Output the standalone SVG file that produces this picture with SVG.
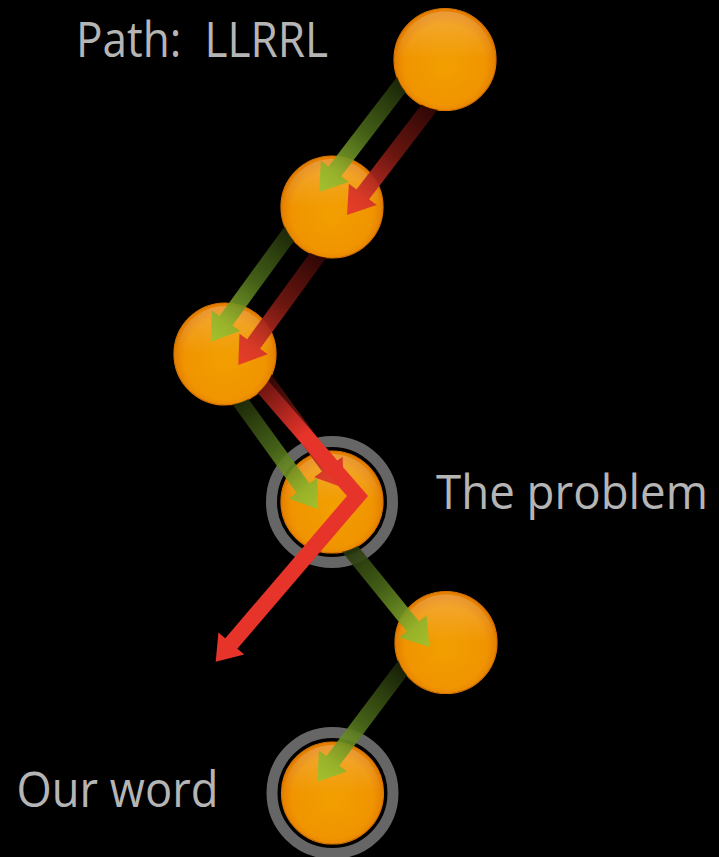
<svg xmlns="http://www.w3.org/2000/svg" width="719" height="857" viewBox="0 0 719 857">
<style>
.lbl{font-family:"Open Sans","Liberation Sans",sans-serif;font-size:50px;font-weight:400;fill:#b5b5b5}
.ball{fill:url(#ballG);stroke:#d97500;stroke-width:1.2}
.hl{fill:url(#hlG)}
.ring{fill:none;stroke:#666;stroke-width:11}
.gA{fill:url(#gG);opacity:0.9}
.rA{fill:url(#rG);opacity:0.92}
</style>
<defs>
<radialGradient id="ballG" cx="0.5" cy="0.55" r="0.5">
<stop offset="0" stop-color="#f29f00"/>
<stop offset="0.8" stop-color="#f09400"/>
<stop offset="1" stop-color="#e47f00"/>
</radialGradient>
<linearGradient id="hlG" x1="0" y1="0" x2="0" y2="1">
<stop offset="0" stop-color="#fff" stop-opacity="0.22"/>
<stop offset="0.5" stop-color="#fff" stop-opacity="0"/>
</linearGradient>
<linearGradient id="gG" x1="0" y1="0" x2="1" y2="0">
<stop offset="0" stop-color="#141c05"/>
<stop offset="0.5" stop-color="#4b6a1a"/>
<stop offset="0.85" stop-color="#8fb52c"/>
<stop offset="1" stop-color="#9cc431"/>
</linearGradient>
<linearGradient id="rG" x1="0" y1="0" x2="1" y2="0">
<stop offset="0" stop-color="#230403"/>
<stop offset="0.5" stop-color="#751811"/>
<stop offset="0.85" stop-color="#d8322a"/>
<stop offset="1" stop-color="#e6372a"/>
</linearGradient>
<linearGradient id="bentG" gradientUnits="userSpaceOnUse" x1="245" y1="366" x2="305" y2="435">
<stop offset="0" stop-color="#3a0806"/>
<stop offset="1" stop-color="#e6342a"/>
</linearGradient>
<path id="arr" d="M-150,-8 L-26,-8 L-26,-17.5 L0,0 L-26,17.5 L-26,8 L-150,8 Z"/>
<mask id="m1" maskUnits="userSpaceOnUse" x="0" y="0" width="719" height="857"><rect width="719" height="857" fill="#fff"/><circle cx="445" cy="59.5" r="51" fill="#000"/></mask>
<mask id="m2" maskUnits="userSpaceOnUse" x="0" y="0" width="719" height="857"><rect width="719" height="857" fill="#fff"/><circle cx="332" cy="207" r="51" fill="#000"/></mask>
<mask id="m3" maskUnits="userSpaceOnUse" x="0" y="0" width="719" height="857"><rect width="719" height="857" fill="#fff"/><circle cx="225" cy="354" r="51" fill="#000"/></mask>
<mask id="m4" maskUnits="userSpaceOnUse" x="0" y="0" width="719" height="857"><rect width="719" height="857" fill="#fff"/><circle cx="332" cy="502" r="51" fill="#000"/></mask>
<mask id="m5" maskUnits="userSpaceOnUse" x="0" y="0" width="719" height="857"><rect width="719" height="857" fill="#fff"/><circle cx="446" cy="642.5" r="51" fill="#000"/></mask>
</defs>
<rect width="719" height="857" fill="#000"/>

<g id="n1"><circle class="ball" cx="445" cy="59.5" r="51"/><circle class="hl" cx="445" cy="59.5" r="48"/></g>
<g id="n2"><circle class="ball" cx="332" cy="207" r="51"/><circle class="hl" cx="332" cy="207" r="48"/></g>
<g id="n3"><circle class="ball" cx="225" cy="354" r="51"/><circle class="hl" cx="225" cy="354" r="48"/></g>
<g id="n4"><circle class="ring" cx="332" cy="502" r="60.5"/><circle class="ball" cx="332" cy="502" r="51"/><circle class="hl" cx="332" cy="502" r="48"/></g>
<g id="n5"><circle class="ball" cx="446" cy="642.5" r="51"/><circle class="hl" cx="446" cy="642.5" r="48"/></g>
<g id="n6"><circle class="ring" cx="332.5" cy="793" r="60.5"/><circle class="ball" cx="332.5" cy="793" r="51"/><circle class="hl" cx="332.5" cy="793" r="48"/></g>

<g id="connectors">
<g mask="url(#m1)">
<use href="#arr" class="gA" transform="translate(319,192) rotate(127.46)"/>
<use href="#arr" class="rA" transform="translate(347,215) rotate(127.46)"/>
</g>
<g mask="url(#m2)">
<use href="#arr" class="gA" transform="translate(210.7,341.7) rotate(126.05)"/>
<use href="#arr" class="rA" transform="translate(238.3,365) rotate(126.05)"/>
</g>
<g mask="url(#m3)">
<use href="#arr" class="gA" transform="translate(318.3,509.3) rotate(54.13)"/>
<use href="#arr" class="rA" transform="translate(343.7,488) rotate(54.13)"/>
<polyline points="250,372 357.5,496 229.9,645.1" fill="none" stroke="url(#bentG)" stroke-width="16" stroke-linejoin="miter"/>
<polygon points="215.7,661.7 218.4,632.5 244.2,654.5" fill="#e6342a"/>
</g>
<g mask="url(#m4)">
<use href="#arr" class="gA" transform="translate(429.3,646.7) rotate(50.94)"/>
</g>
<g mask="url(#m5)">
<use href="#arr" class="gA" transform="translate(317.3,781.7) rotate(126.9)"/>
</g>
</g>

<text class="lbl" x="76" y="57" xml:space="preserve" textLength="252" lengthAdjust="spacingAndGlyphs">Path:  LLRRL</text>
<text class="lbl" x="436" y="508.5" style="font-size:47px" textLength="272" lengthAdjust="spacingAndGlyphs">The problem</text>
<text class="lbl" x="16.5" y="807" textLength="202" lengthAdjust="spacingAndGlyphs">Our word</text>
</svg>
